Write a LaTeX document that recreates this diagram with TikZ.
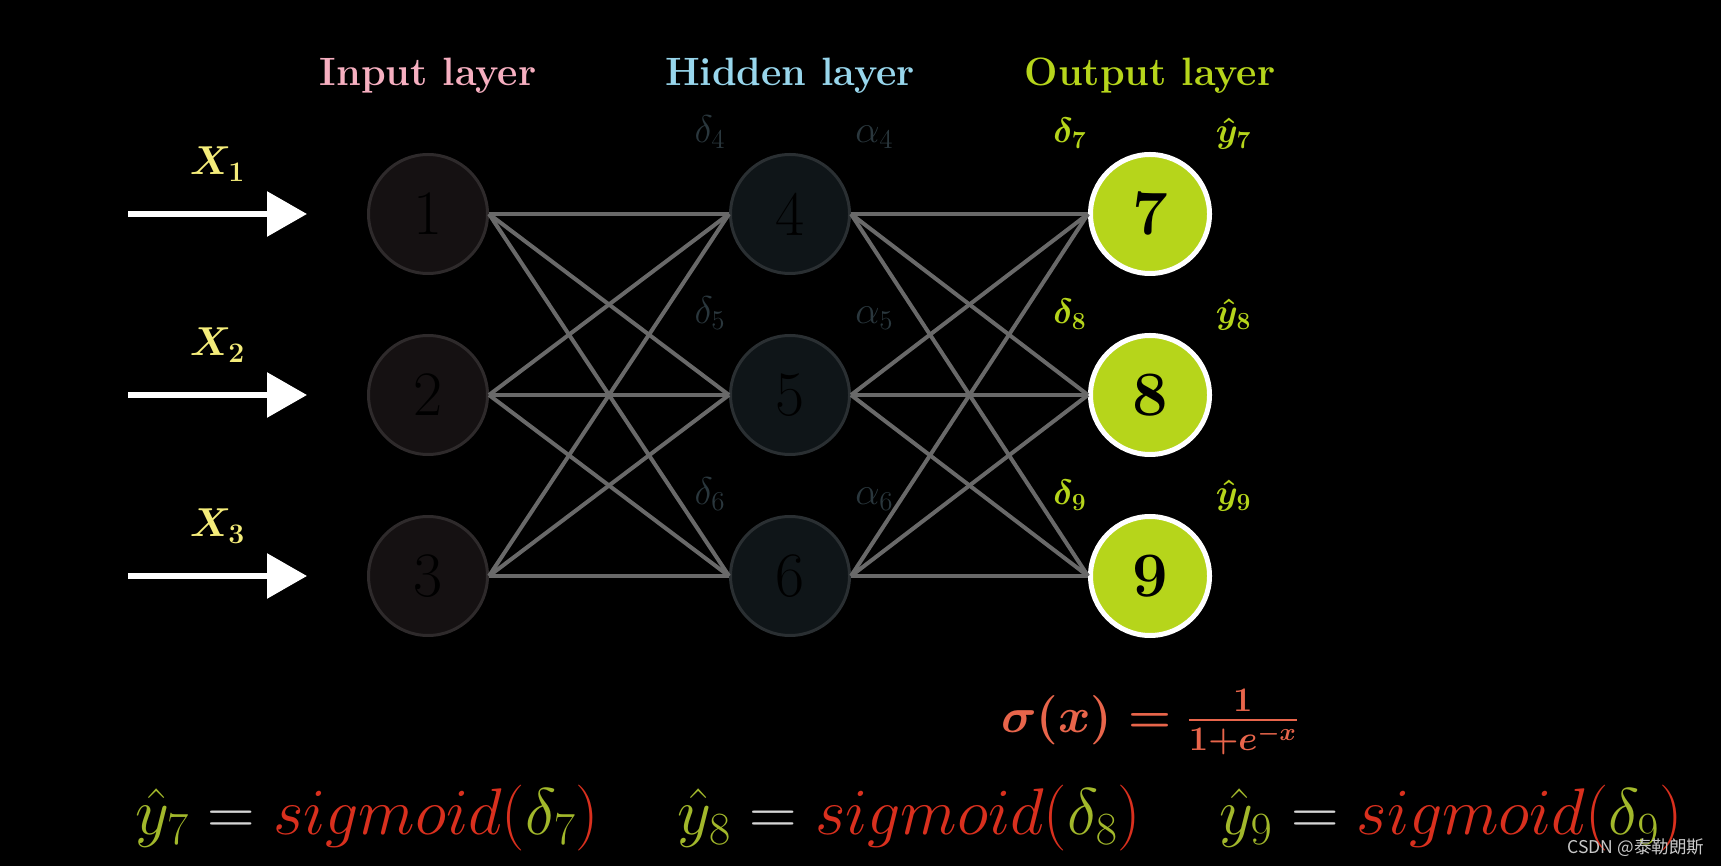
\RequirePackage{fix-cm}
\documentclass[tikz,border=0pt]{standalone}
\usepackage{amsmath}
\usepackage{fontspec}
\newfontfamily\cjkfont{Noto Sans CJK SC}
\usetikzlibrary{arrows.meta,positioning}

\definecolor{inpink}{HTML}{F6AFC0}
\definecolor{hidblue}{HTML}{98D6EC}
\definecolor{outgreen}{HTML}{B6D51B}
\definecolor{xyellow}{HTML}{F4EC7A}
\definecolor{linkgray}{HTML}{696969}
\definecolor{infill}{HTML}{151112}
\definecolor{indraw}{HTML}{2E2A2B}
\definecolor{hidfill}{HTML}{0F1518}
\definecolor{hiddraw}{HTML}{2A2F32}
\definecolor{hidtext}{HTML}{2A373D}
\definecolor{sigcoral}{HTML}{E8654B}
\definecolor{sigred}{HTML}{D9301E}
\definecolor{yhatgreen}{HTML}{A2B82B}
\definecolor{eqgray}{HTML}{D6D6D6}
\definecolor{markgray}{HTML}{C8C8C8}

\tikzset{
  neuron/.style={circle, minimum size=2.38cm, inner sep=0pt, line width=0.06cm,
    text=black, font=\fontsize{36}{40}\selectfont},
  innode/.style={neuron, draw=indraw, fill=infill},
  hidnode/.style={neuron, draw=hiddraw, fill=hidfill},
  outnode/.style={neuron, draw=white, line width=0.1cm, fill=outgreen,
    font=\fontsize{36}{40}\selectfont\bfseries},
  link/.style={draw=linkgray, line width=0.08cm},
  inarrow/.style={draw=white, line width=0.12cm, -{Triangle[length=0.8cm,width=0.88cm]}},
  layertitle/.style={font=\fontsize{22.5}{26}\selectfont\bfseries},
  hidlabel/.style={anchor=base, text=hidtext, font=\fontsize{22}{26}\selectfont},
  outlabel/.style={anchor=base, text=outgreen, font=\fontsize{20}{24}\selectfont\boldmath},
  xlabel/.style={anchor=base, text=xyellow, font=\fontsize{23}{26}\selectfont\boldmath},
  formula/.style={font=\fontsize{37.5}{42}\selectfont},
}

\begin{document}
\begin{tikzpicture}
  % Fondo
  \fill[black] (0,0) rectangle (34.42,17.32);

  % Capas
  \foreach \i/\y in {1/13.04, 2/9.42, 3/5.80} {
    \node[innode] (n\i) at (8.56,\y) {\i};
  }
  \foreach \i/\y in {4/13.04, 5/9.42, 6/5.80} {
    \node[hidnode] (n\i) at (15.8,\y) {\i};
  }
  \foreach \i/\y in {7/13.04, 8/9.42, 9/5.80} {
    \node[outnode] (n\i) at (23.0,\y) {\i};
  }

  % Conexiones
  \foreach \a in {1,2,3} {
    \foreach \b in {4,5,6} {
      \draw[link] (n\a.east) -- (n\b.west);
    }
  }
  \foreach \a in {4,5,6} {
    \foreach \b in {7,8,9} {
      \draw[link] (n\a.east) -- (n\b.west);
    }
  }

  % Entradas
  \foreach \i in {1,2,3} {
    \coordinate (a\i) at ([xshift=-4.78cm]n\i.west);
    \draw[inarrow] (a\i) -- ([xshift=-1.2cm]n\i.west)
      node[xlabel, midway, yshift=0.78cm] (x\i) {$X_{\i}$};
  }

  % Titulos
  \node[layertitle, text=inpink] (tin) at (8.56,15.8) {Input layer};
  \node[layertitle, text=hidblue] (thid) at (15.8,15.8) {Hidden layer};
  \node[layertitle, text=outgreen] (tout) at (23.0,15.8) {Output layer};

  % Etiquetas
  \foreach \i in {4,5,6} {
    \node[hidlabel] (d\i) at ([shift={(-1.6,1.42)}]n\i) {$\delta_{\i}$};
    \node[hidlabel] (al\i) at ([shift={(1.69,1.42)}]n\i) {$\alpha_{\i}$};
  }
  \foreach \i in {7,8,9} {
    \node[outlabel] (d\i) at ([shift={(-1.6,1.42)}]n\i) {$\delta_{\i}$};
    \node[outlabel] (y\i) at ([shift={(1.67,1.42)}]n\i) {$\hat{y}_{\i}$};
  }

  % Sigmoide
  \node[text=sigcoral, font=\fontsize{28}{32}\selectfont\boldmath] (sig) at (23.0,2.88)
    {$\sigma(x) = \frac{1}{1+e^{-x}}$};

  % Salidas
  \foreach \i/\x in {7/7.35, 8/18.19, 9/29.02} {
    \node[formula] (f\i) at (\x,0.96)
      {$\textcolor{yhatgreen}{\hat{y}_{\i}} \mathrel{\textcolor{eqgray}{=}}
        \textcolor{sigred}{sigmoid(}\textcolor{yhatgreen}{\delta_{\i}}\textcolor{sigred}{)}$};
  }

  % Marca
  \node[text=markgray, font=\cjkfont\fontsize{10}{12}\selectfont] (mark) at (32.72,0.36)
    {CSDN @泰勒朗斯};
\end{tikzpicture}
\end{document}
